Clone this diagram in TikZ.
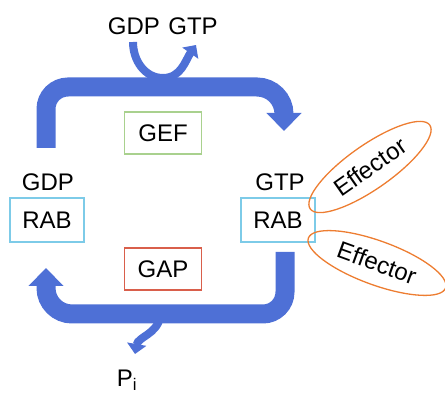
\documentclass[tikz,border=0pt]{standalone}
\usepackage{fontspec}
\setmainfont{Liberation Sans}
\usetikzlibrary{arrows.meta,shapes.geometric}
\definecolor{ragblue}{RGB}{78,112,214}
\definecolor{rabcyan}{RGB}{125,203,232}
\definecolor{gefgreen}{RGB}{169,209,142}
\definecolor{gapred}{RGB}{217,95,75}
\definecolor{efforange}{RGB}{237,125,49}
\tikzset{
  lbl/.style = {inner sep=0pt, font=\fontsize{24}{28}\selectfont},
  box_b/.style = {lbl, rectangle, draw=rabcyan, line width=1.3pt,
    minimum width=74pt, minimum height=44pt},% RAB
  box_g/.style = {lbl, rectangle, draw=gefgreen, line width=1.3pt,
    minimum width=77pt, minimum height=42pt},% GEF
  box_r/.style = {lbl, rectangle, draw=gapred, line width=1.3pt,
    minimum width=77pt, minimum height=42pt},% GAP
  eff_o/.style = {lbl, ellipse, draw=efforange, line width=1.3pt,
    minimum width=146pt, minimum height=44pt},% effector
  big_arr/.style = {draw=ragblue, line width=19pt,
    -{Triangle[width=34pt,length=18pt]}},
  small_arr/.style = {draw=ragblue, line width=8pt,
    -{Triangle[width=19pt,length=10pt]}},
}
\begin{document}
\begin{tikzpicture}[x=1pt,y=1pt]
  \useasboundingbox (0,0) rectangle (445,393);

  \node[lbl] (gdpIn) at (134,367) {GDP};
  \node[lbl] (gtpOut) at (193,367) {GTP};

  \node[box_g] (gef) at (163,260) {GEF};
  \node[box_r] (gap) at (163,124) {GAP};

  \node[lbl] (gdpL) at (48,211) {GDP};
  \node[lbl] (gtpR) at (280,211) {GTP};
  \node[box_b] (rabL) at (47,173) {RAB};
  \node[box_b] (rabR) at (278,173) {RAB};

  \node[eff_o, rotate=35] (eff1) at (370,226) {Effector};
  \node[eff_o, rotate=-20] (eff2) at (377,130) {Effector};

  \node[lbl, anchor=base] (pi) at (127,6) {P\textsubscript{i}};

  % activation (GEF)
  \coordinate (a1) at (46,245);
  \coordinate (a2) at (257,306);
  \coordinate (a3) at (284,262);
  \draw[big_arr] (a1) -- (46,284) arc[start angle=180, end angle=90, radius=22]
    -- (a2) arc[start angle=90, end angle=0, radius=27] -- (a3);
  \coordinate (u1) at (133,351);
  \coordinate (u2) at (163,315);
  \coordinate (u3) at (196,348);
  \draw[small_arr] (u1) to[out=-90,in=180] (u2) to[out=0,in=-125] (u3);

  % hydrolysis (GAP)
  \coordinate (b1) at (285,141);
  \coordinate (b2) at (72,79);
  \coordinate (b3) at (46,125);
  \draw[big_arr] (b1) -- (285,101) arc[start angle=0, end angle=-90, radius=22]
    -- (b2) arc[start angle=270, end angle=180, radius=26] -- (b3);
  \coordinate (p1) at (160,76);
  \coordinate (p2) at (135,39);
  \draw[small_arr] (p1) to[out=-100,in=80] (p2);
\end{tikzpicture}
\end{document}
